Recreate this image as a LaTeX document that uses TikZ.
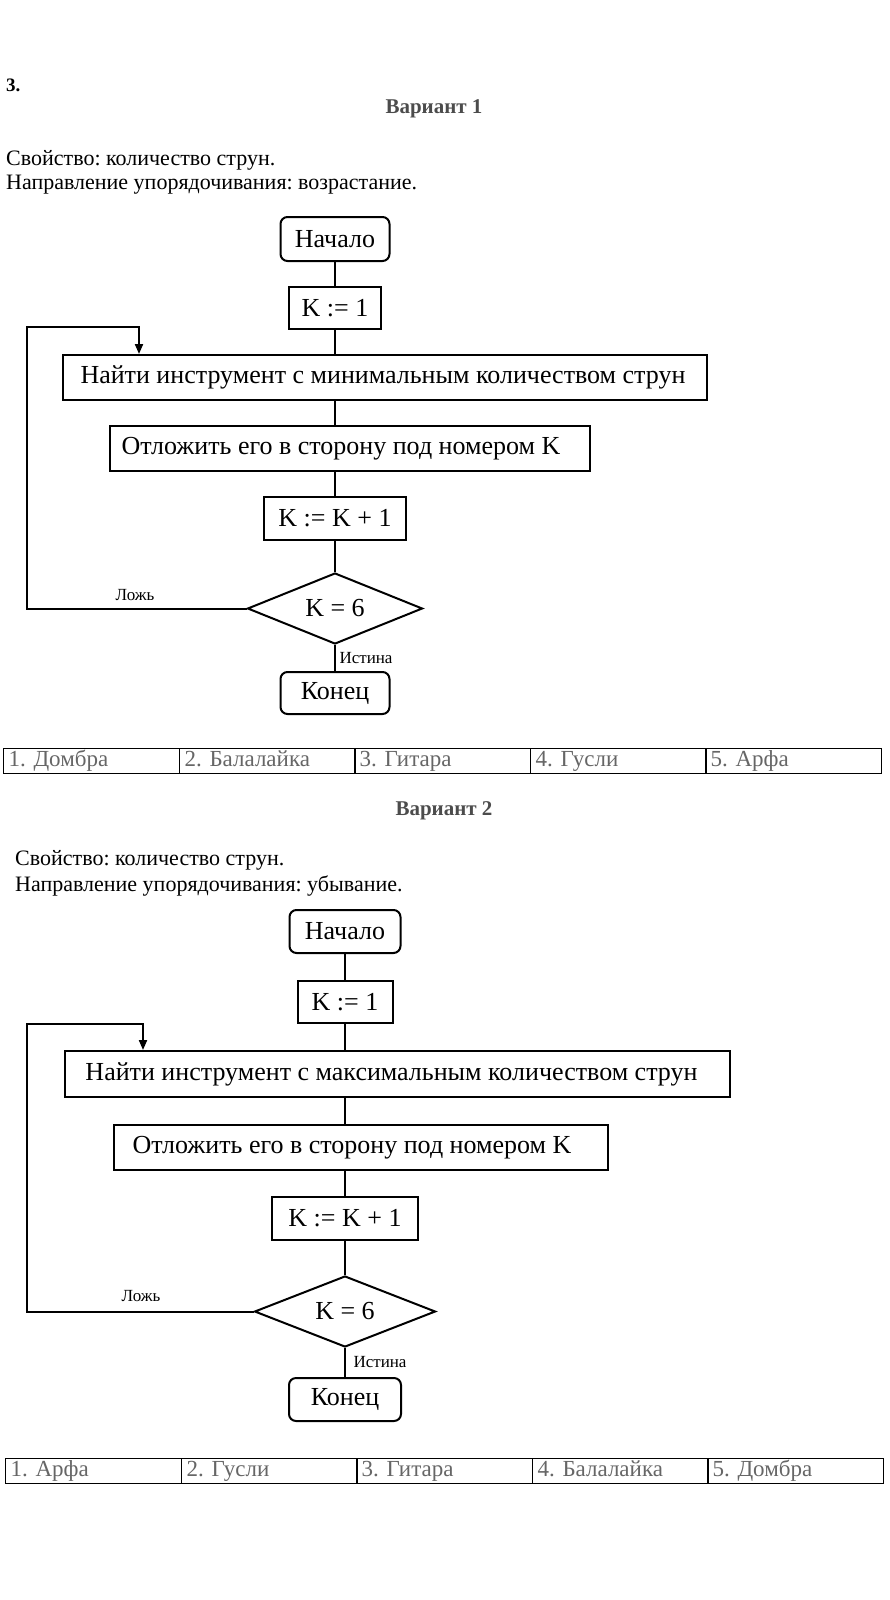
\documentclass[tikz,border=0pt]{standalone}
\usepackage{fontspec}
\setmainfont{Liberation Serif}
\usetikzlibrary{shapes.geometric,arrows.meta}
\begin{document}
\frenchspacing
\begin{tikzpicture}[x=1pt,y=-1pt,
  box/.style={draw,line width=2pt,inner sep=0pt,font=\fontsize{26}{28}\selectfont},
  term/.style={box,rounded corners=7pt},
  dec/.style={box,diamond,aspect=2.46},
  conn/.style={line width=2pt},
  loopl/.style={conn,-{Triangle[length=10pt,width=8pt]}},
  small/.style={font=\fontsize{17}{19}\selectfont,inner sep=0pt},
  head/.style={font=\fontsize{22}{24}\selectfont,inner sep=0pt,anchor=west},
  var/.style={font=\bfseries\fontsize{21}{23}\selectfont,text=black!70,inner sep=0pt},
  cell/.style={draw,line width=1.2pt,anchor=north west,minimum height=25pt,inner xsep=5pt,inner ysep=0pt,text height=16pt,text depth=5pt,text width=166pt,font=\fontsize{23}{25}\selectfont,text=black!60}
]
\useasboundingbox (0,0) rectangle (889,1600);
% ---------- Variant 1 ----------
\node[font=\bfseries\fontsize{19}{21}\selectfont,inner sep=0pt,anchor=west] (num) at (6,85) {3.};
\node[var] (v1) at (434,109) {Вариант 1};
\node[head] (p1) at (6,160) {Свойство: количество струн.};
\node[head] (d1) at (6,185) {Направление упорядочивания: возрастание.};

\node[term,minimum width=109pt,minimum height=44pt] (start1) at (335,239) {Начало};
\node[box,minimum width=92pt,minimum height=42pt] (k1) at (335,308) {K := 1};
\node[box,minimum width=644pt,minimum height=45pt] (find1) at (385,377.5) {\hspace*{-4pt}Найти инструмент с минимальным количеством струн};
\node[box,minimum width=480pt,minimum height=45pt] (put1) at (350,448.5) {\hspace*{-18pt}Отложить его в сторону под номером K};
\node[box,minimum width=142pt,minimum height=43pt] (inc1) at (335,518.5) {K := K + 1};
\node[dec,minimum width=175pt,minimum height=71pt] (dec1) at (335,608.5) {K = 6};
\node[term,minimum width=109pt,minimum height=42pt] (end1) at (335,693) {Конец};

\draw[conn] (start1.south) -- (k1.north);
\draw[conn] (k1.south) -- (k1.south |- find1.north);
\draw[conn] (k1.south |- find1.south) -- (k1.south |- put1.north);
\draw[conn] (k1.south |- put1.south) -- (inc1.north);
\draw[conn] (inc1.south) -- (dec1.north);
\draw[conn] (dec1.south) -- (end1.north);
\coordinate (lc1) at (27,327);
\coordinate (la1) at (139,327);
\draw[loopl] (dec1.west) -| (lc1) -- (la1) -- (la1 |- find1.north);
\node[small] (f1) at (135,595) {Ложь};
\node[small] (t1) at (366,658) {Истина};

\node[cell,minimum width=176pt] (a1) at (3,748) {1. Домбра};
\node[cell,minimum width=175pt] (b1) at (179,748) {2. Балалайка};
\node[cell,minimum width=176pt] (c1) at (354,748) {3. Гитара};
\node[cell,minimum width=175pt] (e1) at (530,748) {4. Гусли};
\node[cell,minimum width=175pt] (g1) at (705,748) {5. Арфа};

% ---------- Variant 2 ----------
\node[var] (v2) at (444,811) {Вариант 2};
\node[head] (p2) at (15,860) {Свойство: количество струн.};
\node[head] (d2) at (15,886) {Направление упорядочивания: убывание.};

\node[term,minimum width=111pt,minimum height=43pt] (start2) at (345,931.5) {Начало};
\node[box,minimum width=95pt,minimum height=42pt] (k2) at (345,1002) {K := 1};
\node[box,minimum width=665pt,minimum height=46pt] (find2) at (397.5,1074) {\hspace*{-12pt}Найти инструмент с максимальным количеством струн};
\node[box,minimum width=494pt,minimum height=45pt] (put2) at (361,1147.5) {\hspace*{-18pt}Отложить его в сторону под номером K};
\node[box,minimum width=146pt,minimum height=43pt] (inc2) at (345,1218.5) {K := K + 1};
\node[dec,minimum width=181pt,minimum height=71pt] (dec2) at (345,1311.5) {K = 6};
\node[term,minimum width=112pt,minimum height=43pt] (end2) at (345,1399.5) {Конец};

\draw[conn] (start2.south) -- (k2.north);
\draw[conn] (k2.south) -- (k2.south |- find2.north);
\draw[conn] (k2.south |- find2.south) -- (k2.south |- put2.north);
\draw[conn] (k2.south |- put2.south) -- (inc2.north);
\draw[conn] (inc2.south) -- (dec2.north);
\draw[conn] (dec2.south) -- (end2.north);
\coordinate (lc2) at (27,1024);
\coordinate (la2) at (143,1024);
\draw[loopl] (dec2.west) -| (lc2) -- (la2) -- (la2 |- find2.north);
\node[small] (f2) at (141,1296) {Ложь};
\node[small] (t2) at (380,1362) {Истина};

\node[cell,minimum width=176pt] (a2) at (5,1458) {1. Арфа};
\node[cell,minimum width=175pt] (b2) at (181,1458) {2. Гусли};
\node[cell,minimum width=176pt] (c2) at (356,1458) {3. Гитара};
\node[cell,minimum width=175pt] (e2) at (532,1458) {4. Балалайка};
\node[cell,minimum width=175pt] (g2) at (707,1458) {5. Домбра};
\end{tikzpicture}
\end{document}
